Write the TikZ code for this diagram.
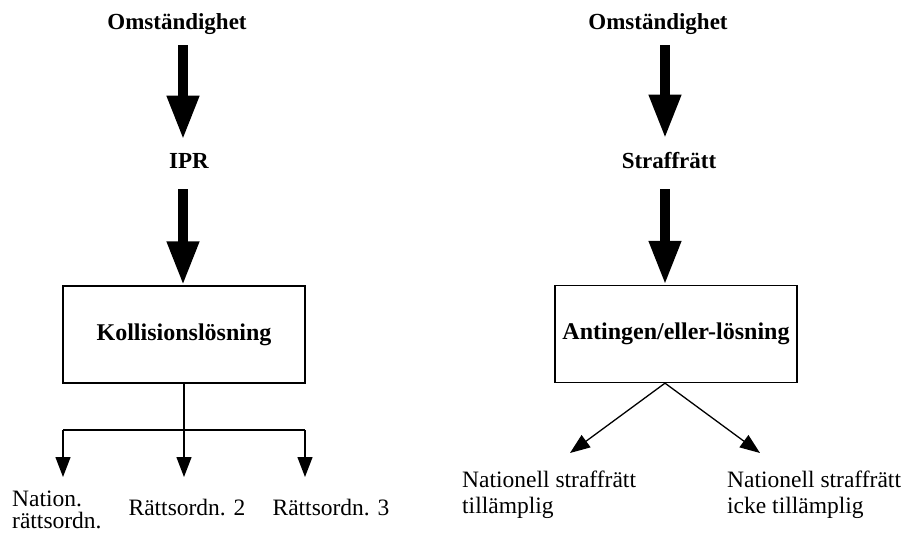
\documentclass[tikz,border=0pt]{standalone}
\usepackage{fontspec}
\setmainfont{Liberation Serif}
\usetikzlibrary{arrows.meta}

\tikzset{
  fatarrow/.style={line width=10pt, -{Triangle[width=30pt,length=44pt]}},
  smallarrow/.style={line width=1.3pt, -{Triangle[width=15pt,length=20pt]}},
  plainline/.style={line width=1.3pt},
  head/.style={font=\fontsize{23}{26}\selectfont\bfseries, anchor=base, inner sep=0pt},
  lbl/.style={font=\fontsize{23.5}{26}\selectfont, inner sep=0pt, align=left},
  box/.style={draw, line width=1.3pt, minimum width=242pt, minimum height=97pt,
    inner sep=0pt, font=\fontsize{24}{26}\selectfont\bfseries}
}

\begin{document}
\begin{tikzpicture}[x=1pt,y=-1pt]
    \useasboundingbox (0,0) rectangle (904,533);

    % IPR side
    \node[head] (om1) at (177,29) {Omständighet};
    \node[head] (ipr) at (189,168) {IPR};
    \node[box] (koll) at (184,334.5) {Kollisionslösning};
    \coordinate (c1) at (183,0);
    \draw[fatarrow, shorten <=11pt, shorten >=13pt] (om1.south -| c1) -- (ipr.north -| c1);
    \draw[fatarrow, shorten <=21pt] (ipr.south -| c1) -- (koll.north -| c1);

    \coordinate (s1) at (63,430);
    \coordinate (s3) at (305,430);
    \coordinate (t1) at (63,477);
    \coordinate (t2) at (184,477);
    \coordinate (t3) at (305,477);
    \draw[smallarrow] (koll.south) -- (t2);
    \draw[plainline] (s1) -- (s3);
    \draw[smallarrow] (s1) -- (t1);
    \draw[smallarrow] (s3) -- (t3);

    \node[lbl, anchor=base west] (r1) at (12,528) {Nation.\\[-4pt]rättsordn.};
    \node[lbl, anchor=base] (r2) at (187,515) {Rättsordn. 2};
    \node[lbl, anchor=base] (r3) at (331,515) {Rättsordn. 3};

    % straffrätt side
    \node[head] (om2) at (658,29) {Omständighet};
    \node[head] (straff) at (669,168) {Straffrätt};
    \node[box] (antingen) at (676,334) {Antingen/eller-lösning};
    \coordinate (c2) at (665,0);
    \draw[fatarrow, shorten <=11pt, shorten >=13pt] (om2.south -| c2) -- (straff.north -| c2);
    \draw[fatarrow, shorten <=21pt] (straff.south -| c2) -- (antingen.north -| c2);

    \coordinate (u1) at (570,453);
    \coordinate (u2) at (760,453);
    \draw[smallarrow] (antingen.south -| c2) -- (u1);
    \draw[smallarrow] (antingen.south -| c2) -- (u2);

    \node[lbl, anchor=base west] (n1) at (462,513) {Nationell straffrätt\\tillämplig};
    \node[lbl, anchor=base west] (n2) at (727,513) {Nationell straffrätt\\icke tillämplig};
\end{tikzpicture}
\end{document}
